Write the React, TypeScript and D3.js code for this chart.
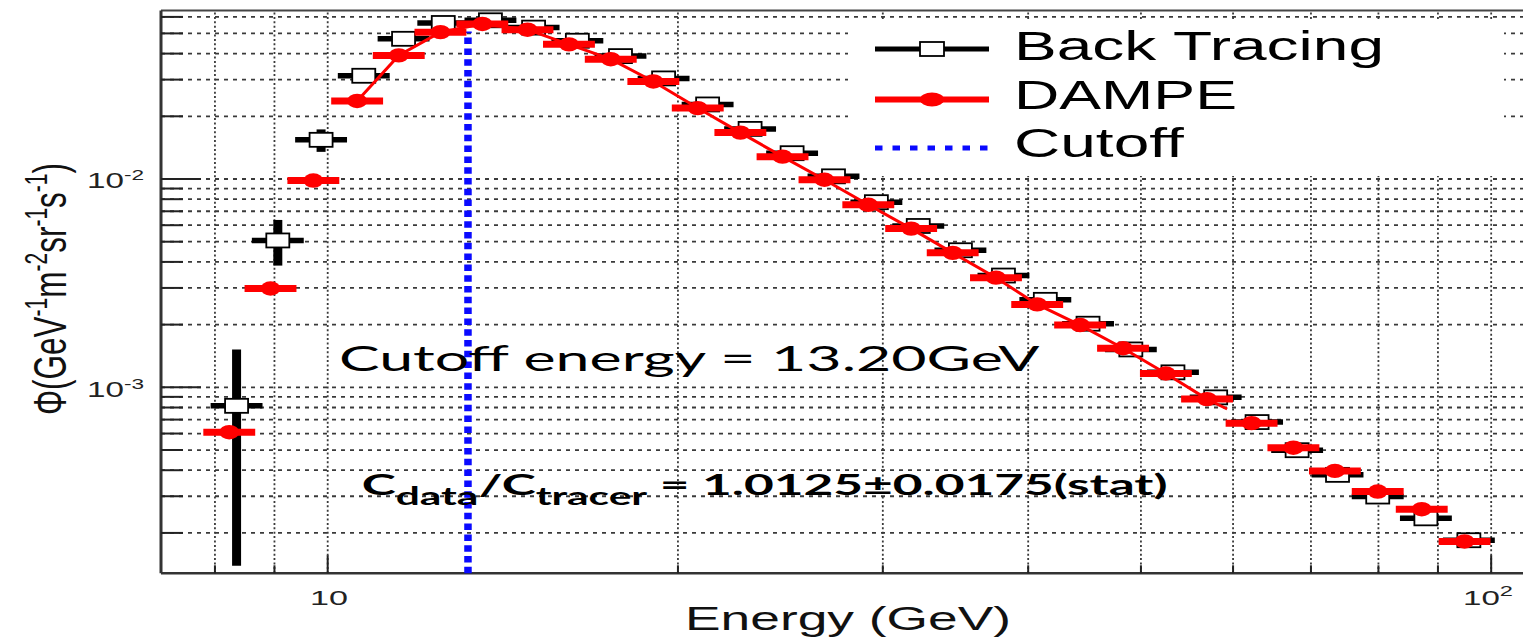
import React, { useEffect, useLayoutEffect, useRef, useState } from 'react';
import * as d3 from 'd3';

const W = 1523;
const H = 639;

// DAMPE measured spectrum: bin centre energy (GeV) and flux
const dampeEnergy = [8.23, 8.93, 9.72, 10.6, 11.51, 12.5, 13.58, 14.85, 16.12, 17.51, 19.05, 20.8, 22.63, 24.6, 26.73, 29.15, 31.73, 34.45, 37.53, 40.72, 44.33, 48.26, 52.53, 56.99, 62.24, 67.61, 73.4, 79.89, 87.16, 94.87];
const dampeFlux = [6.09e-4, 2.98e-3, 9.83e-3, 0.0237, 0.0392, 0.0507, 0.0555, 0.0521, 0.0443, 0.0376, 0.0294, 0.0219, 0.0167, 0.0128, 9.92e-3, 7.52e-3, 5.78e-3, 4.42e-3, 3.36e-3, 2.5e-3, 1.99e-3, 1.54e-3, 1.165e-3, 8.78e-4, 6.73e-4, 5.13e-4, 3.97e-4, 3.16e-4, 2.6e-4, 1.82e-4];

// Back-tracing expectation
const tracerEnergy = [8.35, 9.06, 9.87, 10.74, 11.62, 12.57, 13.8, 15.03, 16.39, 17.85, 19.44, 21.21, 23.07, 25.07, 27.21, 29.62, 32.18, 34.98, 38.09, 41.38, 45.03, 49.01, 53.27, 57.97, 62.92, 68.11, 73.78, 79.89, 87.88, 95.68];
const tracerFlux = [8.15e-4, 5.07e-3, 0.01542, 0.0313, 0.0471, 0.0561, 0.0578, 0.0533, 0.0461, 0.0389, 0.0304, 0.0228, 0.0174, 0.0133, 0.0103, 7.74e-3, 5.95e-3, 4.55e-3, 3.44e-3, 2.63e-3, 2.02e-3, 1.52e-3, 1.18e-3, 8.95e-4, 6.81e-4, 4.99e-4, 3.8e-4, 2.99e-4, 2.35e-4, 1.845e-4];
// vertical error bars (only the lowest bins have bars larger than the marker)
const tracerFluxLow = [1.39e-4, 3.84e-3, 0.0135];
const tracerFluxHigh = [1.52e-3, 6.36e-3, 0.0173];

// half bin width in decades of energy
const binHalfWidthDex = 0.0223;

// geomagnetic cutoff
const cutoffEnergy = 13.2;
const cutoffFluxTop = 0.051;

// the DAMPE curve is drawn from this bin up to the end point below
const fitFirstBin = 3;
const fitEnd = { energy: 59.3, flux: 7.87e-4 };

const xDomain = [7.19, 106.5];
const yDomain = [1.28e-4, 0.0644];

const legendItems = ['Back Tracing', 'DAMPE', 'Cutoff'];

const plot = { left: 161, top: 10.5, bottom: 573.3, right: W };

const SX = 1.55; // horizontal stretch of glyphs

function FitText({ x, y, width, children, ...rest }: any) {
  const ref = useRef<SVGTextElement>(null);
  const [fit, setFit] = useState({ k: 1, dx: 0 });
  const measure = () => {
    const el = ref.current;
    if (!el) return;
    const b = el.getBBox();
    if (b.width > 0) setFit({ k: width / b.width, dx: b.x });
  };
  useLayoutEffect(measure, [width]);
  useEffect(() => {
    const f = (document as any).fonts;
    if (f && f.ready) f.ready.then(measure);
  }, []);
  return (
    <g transform={`translate(${x},${y}) scale(${fit.k},1) translate(${-fit.dx},0)`}>
      <text ref={ref} {...rest}>
        {children}
      </text>
    </g>
  );
}

export default function App() {
  const x = d3.scaleLog().domain(xDomain).range([plot.left, plot.right]);
  const y = d3.scaleLog().domain(yDomain).range([plot.bottom, plot.top]);

  const isDecade = (v: number) => Math.abs(Math.log10(v) - Math.round(Math.log10(v))) < 1e-6;
  const xTicks = x.ticks();
  const yTicks = y.ticks();

  const hw = Math.pow(10, binHalfWidthDex);

  const fitPts: [number, number][] = dampeEnergy
    .map((e, i) => [e, dampeFlux[i]] as [number, number])
    .filter((_, i) => i >= fitFirstBin && dampeEnergy[i] < fitEnd.energy);
  fitPts.push([fitEnd.energy, fitEnd.flux]);
  const fitLine = d3
    .line<[number, number]>()
    .x((d) => x(d[0]))
    .y((d) => y(d[1]))(fitPts);

  const sans = 'Liberation Sans, Arial, sans-serif';
  const slide = 'Lato, Open Sans, sans-serif';
  const gridColor = '#3a3a3a';

  const legendRows = [49, 99.5, 148];
  const legLine = { x0: 875, x1: 989, mx: 932 };

  return (
    <svg
      width={W}
      height={H}
      style={{ position: 'absolute', left: 0, top: 0, display: 'block', background: '#fff' }}
    >
      <rect x={0} y={0} width={W} height={H} fill="#fff" />

      {/* grid */}
      {xTicks.map((t) => (
        <line
          key={'gx' + t}
          x1={x(t)}
          x2={x(t)}
          y1={plot.bottom}
          y2={plot.top}
          stroke={gridColor}
          strokeWidth={1.8}
          strokeDasharray="2 2.4"
        />
      ))}
      {yTicks.map((t) => (
        <line
          key={'gy' + t}
          x1={plot.left}
          x2={plot.right}
          y1={y(t)}
          y2={y(t)}
          stroke={gridColor}
          strokeWidth={1.8}
          strokeDasharray="4 5"
        />
      ))}

      {/* legend background hides grid */}
      <rect x={848} y={21} width={656} height={155} fill="#fff" />

      {/* frame and ticks */}
      <line x1={plot.left} x2={plot.right} y1={plot.top} y2={plot.top} stroke="#444" strokeWidth={2} />
      <line x1={plot.left} x2={plot.right} y1={plot.bottom} y2={plot.bottom} stroke="#333" strokeWidth={2.5} />
      <line x1={plot.left} x2={plot.left} y1={plot.top} y2={plot.bottom} stroke="#333" strokeWidth={3} />
      {yTicks.map((t) => (
        <line
          key={'ty' + t}
          x1={plot.left}
          x2={plot.left + (isDecade(t) ? 40 : 22)}
          y1={y(t)}
          y2={y(t)}
          stroke="#222"
          strokeWidth={2}
        />
      ))}
      {xTicks.map((t) => (
        <line
          key={'tx' + t}
          x1={x(t)}
          x2={x(t)}
          y1={plot.bottom}
          y2={plot.bottom - (isDecade(t) ? 18 : 8)}
          stroke="#222"
          strokeWidth={2}
        />
      ))}

      {/* cutoff */}
      <line
        x1={x(cutoffEnergy)}
        x2={x(cutoffEnergy)}
        y1={plot.bottom}
        y2={y(cutoffFluxTop)}
        stroke="#0a0aff"
        strokeWidth={7.5}
        strokeDasharray="6.5 4.3"
      />

      {/* back tracing */}
      {tracerEnergy.map((e, i) => (
        <g key={'bt' + i}>
          <line
            x1={x(e / hw)}
            x2={x(e * hw)}
            y1={y(tracerFlux[i])}
            y2={y(tracerFlux[i])}
            stroke="#000"
            strokeWidth={5.5}
          />
          {i < tracerFluxLow.length && (
            <line
              x1={x(e)}
              x2={x(e)}
              y1={y(tracerFluxLow[i])}
              y2={y(tracerFluxHigh[i])}
              stroke="#000"
              strokeWidth={9}
            />
          )}
          <rect
            x={x(e) - 11.5}
            y={y(tracerFlux[i]) - 7}
            width={23}
            height={14}
            fill="#fff"
            stroke="#000"
            strokeWidth={1.8}
          />
        </g>
      ))}

      {/* DAMPE */}
      {dampeEnergy.map((e, i) => (
        <line
          key={'db' + i}
          x1={x(e / hw)}
          x2={x(e * hw)}
          y1={y(dampeFlux[i])}
          y2={y(dampeFlux[i])}
          stroke="#ff0000"
          strokeWidth={7}
        />
      ))}
      <path d={fitLine || ''} fill="none" stroke="#ff0000" strokeWidth={3} />
      {dampeEnergy.map((e, i) => (
        <ellipse key={'dm' + i} cx={x(e)} cy={y(dampeFlux[i])} rx={10} ry={7.2} fill="#ff0000" />
      ))}

      {/* legend */}
      <line x1={legLine.x0} x2={legLine.x1} y1={legendRows[0]} y2={legendRows[0]} stroke="#000" strokeWidth={5} />
      <rect x={legLine.mx - 12} y={legendRows[0] - 7} width={24} height={14} fill="#fff" stroke="#000" strokeWidth={1.8} />
      <line x1={legLine.x0} x2={legLine.x1} y1={legendRows[1]} y2={legendRows[1]} stroke="#ff0000" strokeWidth={6} />
      <ellipse cx={legLine.mx} cy={legendRows[1]} rx={12} ry={7} fill="#ff0000" />
      <line
        x1={legLine.x0}
        x2={legLine.x1}
        y1={legendRows[2]}
        y2={legendRows[2]}
        stroke="#0a0aff"
        strokeWidth={5}
        strokeDasharray="7.5 10"
      />
      <FitText x={1014} y={59.5} width={370} fontFamily={sans} fontSize={40} fill="#000">
        {legendItems[0]}
      </FitText>
      <FitText x={1014} y={108.5} width={223} fontFamily={sans} fontSize={40} fill="#000">
        {legendItems[1]}
      </FitText>
      <FitText x={1014} y={157} width={170} fontFamily={sans} fontSize={40} fill="#000">
        {legendItems[2]}
      </FitText>

      {/* axis tick labels */}
      <FitText x={87} y={188} width={57} fontFamily={sans} fontSize={22} fill="#222">
        10<tspan dy={-8} fontSize={15}>-2</tspan>
      </FitText>
      <FitText x={87} y={397} width={57} fontFamily={sans} fontSize={22} fill="#222">
        10<tspan dy={-8} fontSize={15}>-3</tspan>
      </FitText>
      <FitText x={310} y={605} width={38} fontFamily={sans} fontSize={21} fill="#222">
        10
      </FitText>
      <FitText x={1463} y={605} width={50} fontFamily={sans} fontSize={21} fill="#222">
        10<tspan dy={-9} fontSize={15}>2</tspan>
      </FitText>

      {/* axis titles */}
      <FitText x={685} y={630} width={326} fontFamily={sans} fontSize={34} fill="#111">
        Energy (GeV)
      </FitText>
      <g transform={`translate(66,415) scale(${SX},1) rotate(-90)`}>
        <FitText x={0} y={0} width={252} fontFamily={sans} fontSize={30} fill="#111">
          Φ(GeV<tspan dy={-12} fontSize={20}>-1</tspan>
          <tspan dy={12}>m</tspan>
          <tspan dy={-12} fontSize={20}>-2</tspan>
          <tspan dy={12}>sr</tspan>
          <tspan dy={-12} fontSize={20}>-1</tspan>
          <tspan dy={12}>s</tspan>
          <tspan dy={-12} fontSize={20}>-1</tspan>
          <tspan dy={12}>)</tspan>
        </FitText>
      </g>

      {/* annotations */}
      <FitText x={339} y={370.5} width={701} fontFamily={slide} fontSize={35} fill="#000">
        Cutoff energy = 13.20GeV
      </FitText>
      <FitText x={361.7} y={494.5} width={806} fontFamily={slide} fontWeight={700} fontSize={29} fill="#000">
        C<tspan dy={10} fontSize={24}>data</tspan>
        <tspan dy={-10}>/C</tspan>
        <tspan dy={10} fontSize={24}>tracer</tspan>
        <tspan dy={-10}> = 1.0125±0.0175(stat)</tspan>
      </FitText>
    </svg>
  );
}
